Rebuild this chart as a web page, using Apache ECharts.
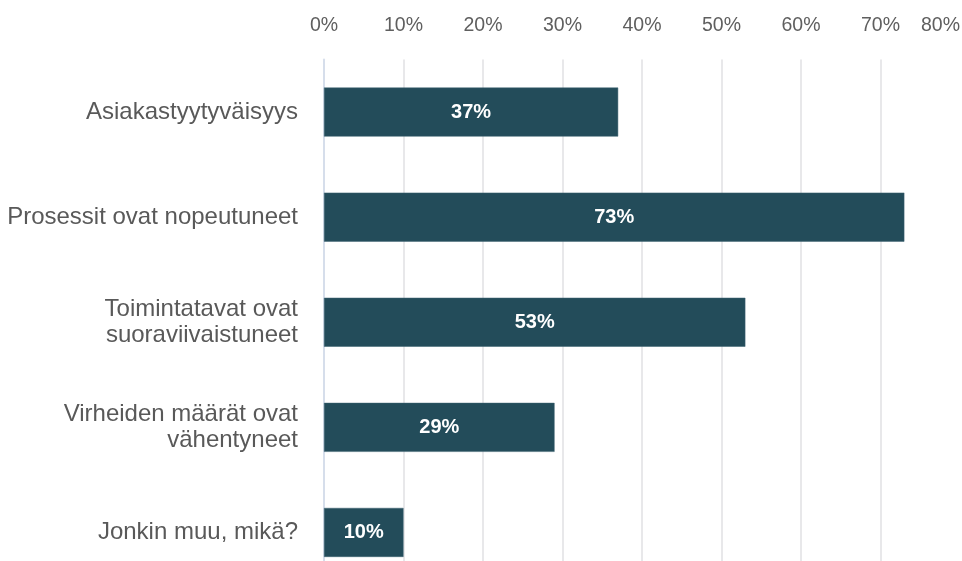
<!DOCTYPE html>
<html>
<head>
<meta charset="utf-8">
<script src="https://cdn.jsdelivr.net/npm/echarts@6/dist/echarts.min.js"></script>
<style>
  html, body { margin: 0; padding: 0; background: #ffffff; }
  #chart { width: 962px; height: 561px; }
</style>
</head>
<body>
<div id="chart"></div>
<script>
// Survey answers: share of respondents per observed effect (%)
const categories = [
  'Asiakastyytyväisyys',
  'Prosessit ovat nopeutuneet',
  'Toimintatavat ovat\nsuoraviivaistuneet',
  'Virheiden määrät ovat\nvähentyneet',
  'Jonkin muu, mikä?'
];
const values = [37, 73, 53, 29, 10];
const axisMax = 80;
const axisStep = 10;

const chart = echarts.init(document.getElementById('chart'));
chart.setOption({
  animation: false,
  // plot area runs past the bottom edge of the canvas
  grid: {
    left: 324, width: 636, top: 59.5, height: 525.5,
    containLabel: false,
    outerBoundsMode: 'none'
  },
  xAxis: {
    type: 'value',
    position: 'top',
    min: 0,
    max: axisMax,
    interval: axisStep,
    axisLine: { show: false },
    axisTick: { show: false },
    axisLabel: {
      formatter: '{value}%',
      color: '#5f5f5f',
      fontFamily: 'Liberation Sans, Arial, sans-serif',
      fontSize: 19.5,
      margin: 23.5,
      alignMaxLabel: 'right'
    },
    splitLine: {
      show: true,
      showMaxLine: false,
      lineStyle: { color: '#e8e8ea', width: 2 }
    }
  },
  yAxis: {
    type: 'category',
    inverse: true,
    data: categories,
    axisLine: { show: true, lineStyle: { color: '#d6deeb', width: 2 } },
    axisTick: { show: false },
    axisLabel: {
      color: '#595959',
      fontFamily: 'Liberation Sans, Arial, sans-serif',
      fontSize: 24,
      lineHeight: 26,
      align: 'right',
      margin: 26,
      padding: [0, 0, 10, 0]
    }
  },
  series: [{
    type: 'bar',
    data: values,
    barWidth: 49,
    itemStyle: { color: '#234c5a', borderColor: '#3d6270', borderWidth: 0.5 },
    label: {
      show: true,
      position: 'inside',
      formatter: '{c}%',
      color: '#ffffff',
      fontWeight: 'bold',
      fontFamily: 'Liberation Sans, Arial, sans-serif',
      fontSize: 20,
      padding: [0, 0, 3, 0]
    }
  }]
});
</script>
</body>
</html>
